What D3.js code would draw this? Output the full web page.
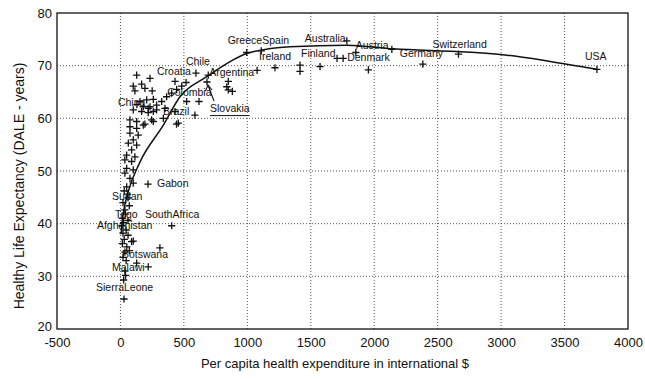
<!DOCTYPE html>
<html>
<head>
<meta charset="utf-8">
<script src="https://cdn.jsdelivr.net/npm/d3@7/dist/d3.min.js"></script>
<style>
  html, body { margin: 0; padding: 0; background: #fff; }
  svg { display: block; font-family: "Liberation Sans", Arial, sans-serif; }
</style>
</head>
<body>
<svg id="chart" width="645" height="379"></svg>
<script>
// Per capita health expenditure (international $) vs healthy life expectancy (DALE, years)
const xTicks = [-500, 0, 500, 1000, 1500, 2000, 2500, 3000, 3500, 4000];
const yTicks = [20, 30, 40, 50, 60, 70, 80];

// Named countries: [name, expenditure, DALE]
const labelled = [
  ["USA", 3755, 69.3], ["Switzerland", 2664, 72.2], ["Germany", 2383, 70.3],
  ["Austria", 1855, 72.5], ["Australia", 1784, 74.7], ["Greece", 995, 72.5],
  ["Spain", 1110, 72.8], ["Ireland", 1218, 69.6], ["Finland", 1573, 69.8],
  ["Denmark", 1755, 71.4], ["Chile", 595, 68.6], ["Croatia", 430, 67.0],
  ["Argentina", 692, 68.2], ["Slovakia", 682, 66.9], ["Colombia", 250, 65.2],
  ["China", 130, 62.6], ["Brazil", 442, 58.9], ["Gabon", 217, 47.5],
  ["Sudan", 60, 44.9], ["Togo", 35, 42.6], ["SouthAfrica", 404, 39.6],
  ["Afghanistan", 12, 39.6], ["Botswana", 311, 35.4], ["Malawi", 128, 32.5],
  ["SierraLeone", 28, 25.7]
];

// Other countries: [expenditure, DALE]
const others = [
  [850, 67.0], [838, 66.0], [850, 65.4], [882, 65.1], [1077, 69.1], [1415, 70.1],
  [1415, 68.9], [1707, 71.4], [1954, 69.2], [2139, 73.1],
  [517, 66.8], [619, 63.2], [522, 63.2], [587, 60.6], [338, 60.0], [246, 59.7],
  [219, 61.9], [259, 61.3],
  [128, 68.2], [233, 67.6], [167, 66.5], [101, 66.1], [193, 65.7], [114, 65.2],
  [364, 64.1], [404, 64.8], [443, 65.5], [483, 66.1], [154, 63.2], [207, 63.5],
  [259, 63.6], [325, 63.2], [180, 62.2], [233, 62.2], [285, 62.5], [101, 61.6],
  [167, 61.3], [219, 61.1], [285, 61.6], [351, 61.9], [430, 61.3], [75, 59.7],
  [128, 59.4], [193, 58.9], [259, 59.4], [456, 59.1], [75, 58.4],
  [128, 58.1], [180, 58.7], [75, 57.2], [140, 56.8], [101, 55.9], [62, 55.3],
  [128, 54.9], [88, 54.0], [49, 53.0], [114, 52.7], [35, 52.1], [88, 51.8],
  [49, 50.5], [101, 50.2], [35, 49.6], [75, 48.6], [101, 47.7], [49, 47.0],
  [30, 46.2], [55, 45.6], [20, 44.0], [70, 43.4], [40, 41.8], [15, 41.0],
  [60, 40.6], [25, 40.2],
  [45, 38.8], [20, 38.2], [101, 36.7], [60, 37.8], [30, 37.0], [15, 36.2],
  [50, 35.6], [35, 34.6], [70, 34.9], [20, 33.6], [219, 31.8], [45, 33.0],
  [35, 31.0], [25, 29.3], [40, 30.2], [88, 36.6]
];

// Fitted trend line: [expenditure, DALE]
const trend = [
  [5, 38.0], [20, 41.5], [62, 46.1], [150, 51.5], [338, 58.7], [469, 64.1],
  [680, 67.9], [838, 70.4], [995, 72.3], [1337, 73.6], [1784, 73.9],
  [2149, 73.2], [2730, 72.6], [3046, 72.0], [3388, 70.8], [3755, 69.3]
];

const svg = d3.select("#chart");
const plotL = 57, plotR = 628, plotT = 13, plotB = 329;

const x = d3.scaleLinear().domain([-500, 4000]).range([plotL, plotR]);
const y = d3.scaleLinear().domain([20, 80]).range([plotB, plotT]);

// dotted grid
const grid = svg.append("g").attr("stroke", "#444").attr("stroke-width", 0.9)
  .attr("stroke-dasharray", "1,2");
grid.selectAll("line.h").data(yTicks.filter(v => v > 20 && v < 80)).join("line")
  .attr("class", "h")
  .attr("x1", plotL).attr("x2", plotR)
  .attr("y1", d => y(d)).attr("y2", d => y(d));
grid.selectAll("line.v").data(xTicks.filter(v => v > -500 && v < 4000)).join("line")
  .attr("class", "v")
  .attr("y1", plotT).attr("y2", plotB)
  .attr("x1", d => x(d)).attr("x2", d => x(d));

// frame
svg.append("rect").attr("x", plotL).attr("y", plotT)
  .attr("width", plotR - plotL).attr("height", plotB - plotT)
  .attr("fill", "none").attr("stroke", "#111").attr("stroke-width", 1.3);

// axes (labels only, plain hyphen for negatives)
const xAxis = svg.append("g").attr("transform", `translate(0,${plotB})`)
  .call(d3.axisBottom(x).tickValues(xTicks).tickSize(0).tickPadding(9).tickFormat(d => String(d)));
const yAxis = svg.append("g").attr("transform", `translate(${plotL},0)`)
  .call(d3.axisLeft(y).tickValues(yTicks).tickSize(0).tickPadding(5).tickFormat(d => String(d)));
[xAxis, yAxis].forEach(a => {
  a.select(".domain").remove();
  a.selectAll("text").attr("font-size", 13).attr("fill", "#111")
    .attr("font-family", "'Liberation Sans', Arial, sans-serif");
});
yAxis.selectAll(".tick").filter(d => d === 20).select("text").attr("dy", "0.1em");

// axis titles
svg.append("text").attr("x", 335).attr("y", 368).attr("text-anchor", "middle")
  .attr("font-size", 13).attr("fill", "#111")
  .text("Per capita health expenditure in international $");
svg.append("text").attr("transform", "translate(24,186) rotate(-90)")
  .attr("text-anchor", "middle").attr("font-size", 14).attr("fill", "#111")
  .text("Healthy Life Expectancy (DALE - years)");

// trend curve
svg.append("path").datum(trend)
  .attr("fill", "none").attr("stroke", "#111").attr("stroke-width", 1.5)
  .attr("d", d3.line().x(d => x(d[0])).y(d => y(d[1])).curve(d3.curveMonotoneX));

// plus markers
const allPts = others.concat(labelled.map(d => [d[1], d[2]]));
const s = 3.6;
svg.append("g").attr("stroke", "#111").attr("stroke-width", 1.3)
  .selectAll("path").data(allPts).join("path")
  .attr("d", d => {
    const px = x(d[0]), py = y(d[1]);
    return `M${px - s},${py}H${px + s}M${px},${py - s}V${py + s}`;
  });

// label placement relative to each country's marker (px)
const nudge = {
  USA: [-12, -12], Switzerland: [-26, -8.5], Germany: [-23, -10], Austria: [0, -6],
  Australia: [-42, -2], Greece: [-19, -11], Spain: [1, -9.4], Ireland: [-16, -10.4],
  Finland: [-19, -12.3], Denmark: [4, 0], Chile: [-10, -11.3], Croatia: [-18, -9.6],
  Argentina: [1, -1.6], Slovakia: [3, 27.6], Colombia: [15, 2.4], China: [-19, -1.8],
  Brazil: [-13.5, -12.4], Gabon: [9, 0], Sudan: [-16, -0.8], Togo: [-10, 5.3],
  SouthAfrica: [-26.7, -10.5], Afghanistan: [-25, 0.5], Botswana: [-38, 7.3],
  Malawi: [-24.7, 5.5], SierraLeone: [-28, -10.8]
};

const lab = svg.append("g").attr("font-size", 10.5).attr("fill", "#111");
labelled.forEach(([name, ex, dale]) => {
  const [dx, dy] = nudge[name];
  const px = x(ex) + dx, py = y(dale) + dy;
  const t = lab.append("text").attr("x", px).attr("y", py)
    .attr("dominant-baseline", "middle").text(name);
  if (name === "Slovakia") {
    const w = t.node().getComputedTextLength();
    lab.append("line").attr("x1", px).attr("x2", px + w)
      .attr("y1", py + 6).attr("y2", py + 6).attr("stroke", "#111").attr("stroke-width", 1);
    // arrow from label to its marker
    const tx = x(ex) + 1, ty = y(dale) + 3;
    const fx = x(ex) + 7, fy = y(dale) + 19;
    lab.append("path")
      .attr("d", `M${fx},${fy}L${tx},${ty}M${tx - 2.5},${ty + 6}L${tx},${ty}L${tx + 4},${ty + 5}`)
      .attr("fill", "none").attr("stroke", "#111").attr("stroke-width", 1.1);
  }
});
</script>
</body>
</html>
